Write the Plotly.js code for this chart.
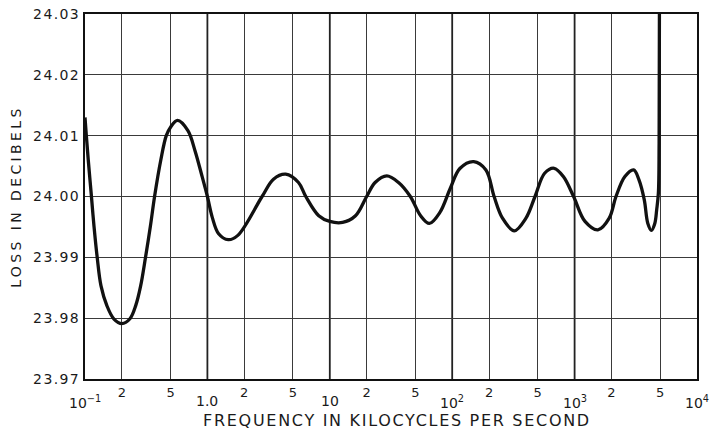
<!DOCTYPE html>
<html>
<head>
<meta charset="utf-8">
<script src="https://cdn.plot.ly/plotly-3.0.1.min.js"></script>
<style>
  html, body { margin: 0; padding: 0; background: #ffffff; }
  #chart { width: 711px; height: 430px; }
  .xtitle { letter-spacing: 1.7px; transform: translate(6px, 1px); }
  .ytitle { letter-spacing: 3.4px; }
  .ytick text { letter-spacing: 1.4px; }
</style>
</head>
<body>
<div id="chart"></div>
<script>
// Frequency in kilocycles per second
const freqKc = [0.1, 0.10256, 0.10633, 0.11287, 0.11848, 0.12577, 0.13514, 0.15064, 0.17186, 0.2,
  0.23289, 0.25996, 0.28487, 0.31220, 0.34208, 0.37018, 0.41627, 0.46126, 0.5, 0.5707,
  0.6930, 0.7918, 0.9049, 1.0, 1.0946, 1.2349, 1.4795, 1.773,
  2.797, 3.467, 4.366, 5.549, 6.366, 8.123, 10.0, 12.72, 16.21, 20.0,
  23.45, 29.21, 36.45, 45.49, 55.21, 65.07, 79.32, 96.7, 115.5, 149.8,
  188.6, 219.9, 257.5, 321.4, 400.5, 475.0, 568.8, 680.4, 809.3, 980.9,
  1216, 1550, 1918, 2179, 2576, 3039, 3357, 3709, 3961, 4239,
  4526, 4683, 4835, 4903, 4932];
// Loss in decibels
const lossDb = [24.0130, 24.0100, 24.0060, 24.0000, 23.9951, 23.9900, 23.9853, 23.9821, 23.9799, 23.9791,
  23.9799, 23.9821, 23.9853, 23.9900, 23.9951, 24.0000, 24.0060, 24.0100, 24.0114, 24.0125,
  24.01082, 24.00754, 24.0033, 24.0000, 23.99661, 23.99388, 23.99290, 23.99361,
  24.0000, 24.00285, 24.00367, 24.0023, 24.0000, 23.99684, 23.9959, 23.99574, 23.99684, 24.0000,
  24.0023, 24.00339, 24.0023, 24.0000, 23.99684, 23.99557, 23.99738, 24.0014, 24.0046, 24.00574,
  24.00436, 24.0000, 23.99644, 23.99436, 23.99644, 24.0000, 24.00382, 24.00464, 24.00328, 24.0000,
  23.9959, 23.99452, 23.99644, 24.0000, 24.00328, 24.00436, 24.00272, 23.99944, 23.99562, 23.99443,
  23.99562, 23.9978, 24.00054, 24.0087, 24.031];

const decades = [0.1, 1, 10, 100, 1000, 10000];
const decadeLabels = ["10<sup>−1</sup>", "1.0", "10", "10<sup>2</sup>", "10<sup>3</sup>", "10<sup>4</sup>"];
const minorTicks = [0.2, 0.5, 2, 5, 20, 50, 200, 500, 2000, 5000];
const minorLabels = ["2", "5", "2", "5", "2", "5", "2", "5", "2", "5"];
const yTicks = [23.97, 23.98, 23.99, 24.00, 24.01, 24.02, 24.03];
const yLabels = ["23.97", "23.98", "23.99", "24.00", "24.01", "24.02", "24.03"];

const font = "DejaVu Sans, Verdana, sans-serif";
const ink = "#1a1a1a";

const trace = {
  x: freqKc,
  y: lossDb,
  type: "scatter",
  mode: "lines",
  line: { color: "#111111", width: 3.3, shape: "spline", smoothing: 1 },
  hoverinfo: "skip",
  cliponaxis: true
};

const shapes = decades.slice(1, 5).map(d => ({
  type: "line", xref: "x", yref: "paper",
  x0: d, x1: d, y0: 0, y1: 1,
  line: { color: "#222222", width: 1.8 },
  layer: "below"
}));

const annotations = decades.map((d, i) => ({
  x: Math.log10(d), y: 0, xref: "x", yref: "paper",
  text: decadeLabels[i], showarrow: false,
  xanchor: "center", yanchor: "top", yshift: -12,
  font: { family: font, size: 14, color: ink }
}));

const layout = {
  width: 711, height: 430,
  margin: { l: 85, r: 14, t: 14, b: 51 },
  paper_bgcolor: "#ffffff",
  plot_bgcolor: "#ffffff",
  showlegend: false,
  font: { family: font, color: ink, size: 14 },
  xaxis: {
    type: "log",
    range: [-1, 4],
    tickmode: "array",
    tickvals: minorTicks,
    ticktext: minorLabels,
    ticks: "",
    showgrid: true,
    gridcolor: "#3a3a3a",
    gridwidth: 1,
    zeroline: false,
    showline: true, mirror: true, linecolor: "#111111", linewidth: 2,
    tickfont: { family: font, size: 13, color: ink },
    title: { text: "FREQUENCY IN KILOCYCLES PER SECOND", font: { family: font, size: 16, color: ink }, standoff: 24 },
    automargin: false,
    fixedrange: true
  },
  yaxis: {
    range: [23.97, 24.03],
    tickmode: "array",
    tickvals: yTicks,
    ticktext: yLabels,
    ticks: "",
    showgrid: true,
    gridcolor: "#3a3a3a",
    gridwidth: 1,
    zeroline: false,
    showline: true, mirror: true, linecolor: "#111111", linewidth: 2,
    tickfont: { family: font, size: 14, color: ink },
    title: { text: "LOSS IN DECIBELS", font: { family: font, size: 14, color: ink }, standoff: 8 },
    automargin: false,
    fixedrange: true
  },
  shapes: shapes,
  annotations: annotations
};

Plotly.newPlot("chart", [trace], layout, { displayModeBar: false, staticPlot: true });
</script>
</body>
</html>
